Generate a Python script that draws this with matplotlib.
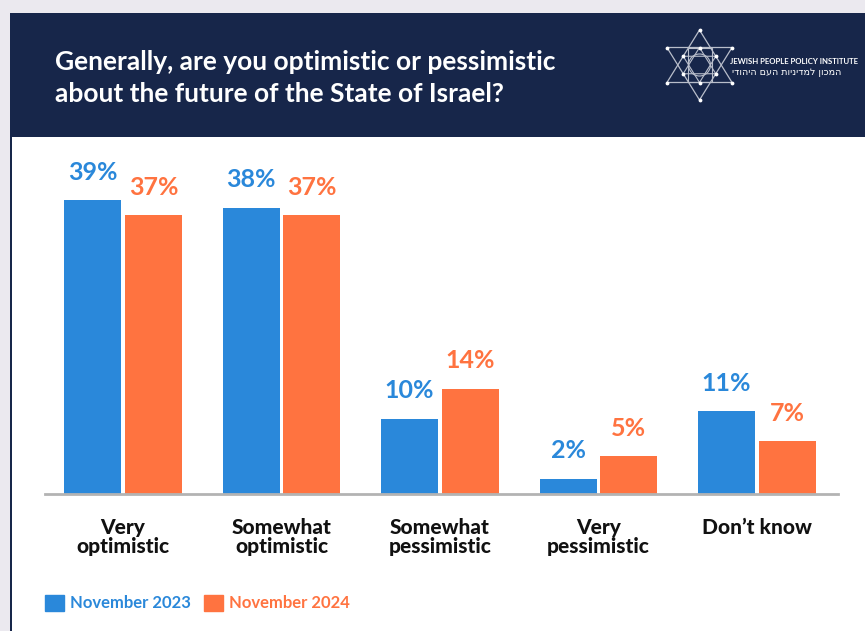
import numpy as np
import matplotlib.pyplot as plt
from matplotlib.patches import Rectangle, Polygon, Circle, Patch

categories = ["Very\noptimistic", "Somewhat\noptimistic", "Somewhat\npessimistic",
              "Very\npessimistic", "Don\u2019t know"]
nov_2023 = [39, 38, 10, 2, 11]
nov_2024 = [37, 37, 14, 5, 7]
series_names = ["November 2023", "November 2024"]

title = "Generally, are you optimistic or pessimistic\nabout the future of the State of Israel?"
org_en = "JEWISH PEOPLE POLICY INSTITUTE"
org_he = "המכון למדיניות העם היהודי"

BLUE = "#2A88DA"
ORANGE = "#FF7340"
NAVY = "#17264A"

plt.rcParams['font.family'] = ['Lato', 'DejaVu Sans']

fig = plt.figure(figsize=(8.65, 6.31), dpi=100)
fig.patch.set_facecolor("#EBE9EF")

# background panels, in pixel coordinates
bg = fig.add_axes([0, 0, 1, 1])
bg.set_xlim(0, 865)
bg.set_ylim(631, 0)
bg.axis("off")
bg.add_patch(Rectangle((10, 13), 855, 124, color=NAVY, lw=0))
bg.add_patch(Rectangle((10, 137), 855, 494, color=NAVY, lw=0))
bg.add_patch(Rectangle((12, 137), 853, 494, color="white", lw=0))

bg.text(55, 78, title, color="white", fontsize=19, fontweight="bold",
        va="center", ha="left", linespacing=1.45)

# logo: nested hexagrams
lc = "#B9BECB"
cx, cy = 699.5, 65
for r, w in [(35, 0.9), (17.5, 0.8)]:
    up = [(cx, cy - r), (cx - r * 0.93, cy + r / 2), (cx + r * 0.93, cy + r / 2)]
    dn = [(cx, cy + r), (cx - r * 0.93, cy - r / 2), (cx + r * 0.93, cy - r / 2)]
    bg.add_patch(Polygon(up, closed=True, fill=False, ec=lc, lw=w))
    bg.add_patch(Polygon(dn, closed=True, fill=False, ec=lc, lw=w))
    pts = np.array(up + dn)
    bg.scatter(pts[:, 0], pts[:, 1], s=3, color="white", zorder=3)
bg.add_patch(Rectangle((688, 48), 24, 34, fill=False, ec=lc, lw=0.8))
bg.add_patch(Circle((cx, cy), 11, fill=False, ec=lc, lw=0.8))
bg.text(730, 61, org_en, color="white", fontsize=5.6, fontweight="bold",
        va="center", ha="left")
bg.text(841, 72.5, org_he[::-1], color="white", fontsize=6.8,
        va="center", ha="right", family=["DejaVu Sans"])

# bar chart
ax = fig.add_axes([45 / 865, 1 - 494 / 631, 793 / 865, 339 / 631])
ax.set_xlim(-0.492, 4.511)
ax.set_ylim(0, 45)
x = np.arange(len(categories))
w = 0.36
off = 0.192
b1 = ax.bar(x - off, nov_2023, w, color=BLUE)
b2 = ax.bar(x + off, nov_2024, w, color=ORANGE)
for bars, vals, c in [(b1, nov_2023, BLUE), (b2, nov_2024, ORANGE)]:
    for b, v in zip(bars, vals):
        ax.annotate(f"{v}%", (b.get_x() + b.get_width() / 2, v),
                    xytext=(0, 28), textcoords="offset pixels",
                    ha="center", va="center", color=c,
                    fontsize=18, fontweight="bold")

for s in ["top", "right", "left"]:
    ax.spines[s].set_visible(False)
ax.spines["bottom"].set_color("#B3B3B3")
ax.spines["bottom"].set_linewidth(2)
ax.set_yticks([])
ax.set_xticks(x)
ax.set_xticklabels(categories, fontsize=15, fontweight="black", color="#111111",
                   linespacing=1.0, va="top")
ax.tick_params(axis="x", length=0, pad=17)
ax.set_facecolor("none")

handles = [Patch(color=BLUE), Patch(color=ORANGE)]
leg = fig.legend(handles, series_names, loc="center left",
                 bbox_to_anchor=(30 / 865, 1 - 603 / 631), frameon=False,
                 handlelength=1.15, handleheight=1.15,
                 handletextpad=0.35, columnspacing=0.8, ncol=2,
                 labelcolor=[BLUE, ORANGE], prop={"weight": "bold", "size": 12})

fig.savefig("out.png", dpi=100)
